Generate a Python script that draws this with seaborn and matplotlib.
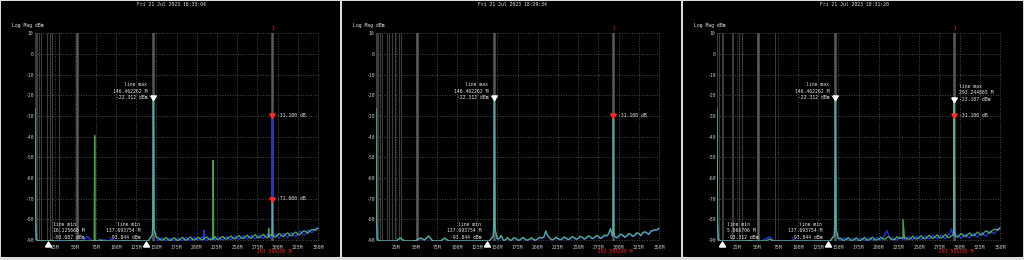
import numpy as np
import pandas as pd
import matplotlib
matplotlib.use("Agg")
import matplotlib.pyplot as plt
import matplotlib.transforms as mtransforms
import seaborn as sns

# ---------------- data ----------------
titles = ["Fri 21 Jul 2023 18:33:04", "Fri 21 Jul 2023 18:29:34", "Fri 21 Jul 2023 18:31:20"]
y_label = "Log Mag dBm"
y_ticks = [10, 0, -10, -20, -30, -40, -50, -60, -70, -80, -90]
x_ticks = [0, 25, 50, 75, 100, 125, 150, 175, 200, 225, 250, 275, 300, 325, 350]
x_tick_labels = ["", "25M", "50M", "75M", "100M", "125M", "150M", "175M", "200M",
                 "225M", "250M", "275M", "300M", "325M", "350M"]

freq_grid = [5, 10, 15, 20, 25, 30, 35, 40, 45, 50, 55, 60, 65, 70, 75, 80, 85, 90, 95, 100,
             105, 110, 115, 120, 125, 130, 135, 140, 145, 150, 155, 160, 165, 170, 175, 180,
             185, 190, 195, 200, 205, 210, 215, 220, 225, 230, 235, 240, 245, 250, 255, 260,
             265, 270, 275, 280, 285, 290, 295, 300, 305, 310, 315, 320, 325, 330, 335, 340,
             345, 350]
freq_mid = [152.5, 157.5, 162.5, 167.5, 172.5, 177.5, 182.5, 187.5, 192.5, 197.5,
            202.5, 207.5, 212.5, 217.5, 222.5, 227.5, 232.5, 237.5, 242.5, 247.5,
            252.5, 257.5, 262.5, 267.5, 272.5, 277.5, 282.5, 287.5, 292.5, 297.5,
            302.5, 307.5, 312.5, 317.5, 322.5, 327.5, 332.5, 337.5, 342.5, 347.5]

p1_blue = [-90.5, -90.5, -90.5, -90.5, -90.5, -90.3, -90.5, -90.5, -90.5, -90.4,
           -90.5, -89.9, -88.2, -90.4, -90.5, -90.5, -89.8, -90.5, -89.6, -90.5,
           -90.5, -90.3, -90.5, -90.5, -90.5, -90.4, -90.5, -90.5,
           -88.0, -89.0, -89.5, -90.0, -89.6, -90.2, -89.8, -90.0, -89.5, -89.9,
           -89.4, -89.7, -89.0, -89.9, -89.5, -89.8, -89.3, -89.7, -89.1, -89.5,
           -88.9, -89.4, -88.8, -89.2, -88.5, -89.0, -88.4, -88.9, -88.2, -88.6,
           -88.0, -88.3, -87.6, -88.1, -87.3, -87.9, -87.0, -86.6, -86.9, -85.8,
           -85.2, -84.6]
p1_blue_mid = [-90.2, -88.9, -90.3, -89.2, -90.4, -89.1, -90.3, -88.8, -90.2, -88.7,
               -90.1, -88.5, -90.2, -88.8, -90.0, -88.6, -89.9, -88.4, -89.8, -88.2,
               -89.7, -87.9, -89.5, -87.8, -89.4, -87.6, -89.3, -87.4, -89.2, -87.2,
               -89.0, -86.9, -88.8, -86.5, -88.4, -85.8, -87.8, -85.2, -86.5, -84.0]
p1_green = [-90.5, -90.5, -90.5, -90.2, -90.5, -90.5, -90.5, -90.5, -90.3, -90.5,
            -90.5, -90.5, -90.5, -90.5, -90.5, -90.0, -90.5, -90.5, -90.5, -90.5,
            -90.5, -90.4, -90.5, -90.5, -90.2, -90.5, -90.5, -90.5,
            -87.5, -88.6, -89.8, -89.4, -90.0, -89.5, -90.1, -89.4, -89.9, -89.2,
            -89.8, -89.3, -89.7, -89.1, -89.6, -89.0, -89.6, -88.8, -89.4, -88.7,
            -89.3, -88.5, -89.1, -88.4, -88.9, -88.1, -88.7, -87.9, -88.4, -87.6,
            -88.2, -87.5, -87.9, -87.2, -87.7, -86.8, -87.2, -86.3, -86.0, -85.5,
            -85.0, -84.2]
p1_green_mid = [-89.0, -90.2, -88.8, -90.3, -88.9, -90.2, -88.7, -90.1, -88.6, -90.0,
                -88.7, -89.9, -88.5, -89.9, -88.4, -89.8, -88.3, -89.6, -88.1, -89.5,
                -87.9, -89.4, -87.7, -89.2, -87.5, -89.0, -87.3, -88.9, -87.6, -88.7,
                -86.9, -88.4, -86.6, -88.0, -86.2, -87.6, -85.6, -86.8, -85.0, -85.3]
p2_blue = [-90.5, -90.5, -90.5, -90.5, -90.5, -89.3, -90.5, -90.5, -90.5, -90.4,
           -89.2, -90.2, -88.3, -90.5, -90.5, -90.5, -89.3, -90.5, -90.5, -90.5,
           -90.5, -90.5, -90.5, -90.5, -90.5, -90.5, -90.5, -90.5,
           -88.2, -89.7, -88.1, -90.2, -89.9, -89.3, -90.1, -89.5, -90.0, -89.8,
           -90.0, -89.6, -89.3, -85.9, -89.3, -89.8, -89.5, -89.7, -89.3, -89.6,
           -89.1, -89.4, -88.9, -89.3, -88.7, -89.1, -88.5, -88.9, -88.3, -84.8,
           -88.3, -88.5, -87.8, -88.3, -87.5, -88.0, -87.1, -86.7, -86.9, -85.9,
           -85.3, -84.6]
p2_blue_mid = [-89.5, -90.3, -89.2, -90.4, -89.3, -90.3, -89.1, -90.2, -89.2, -90.2,
               -89.0, -88.9, -88.3, -90.1, -88.9, -90.0, -88.8, -89.9, -88.6, -89.8,
               -88.5, -89.7, -88.3, -89.5, -88.1, -89.4, -87.9, -87.3, -88.5, -89.1,
               -87.5, -88.8, -87.2, -88.4, -86.8, -88.0, -86.3, -87.5, -85.7, -85.3]
p2_green = [-90.5, -90.5, -90.5, -90.5, -90.5, -89.0, -90.5, -90.5, -90.5, -90.2,
            -89.0, -90.0, -88.0, -90.4, -90.5, -90.5, -89.0, -90.5, -90.5, -90.5,
            -90.5, -90.5, -90.5, -90.5, -90.5, -90.5, -90.5, -90.5,
            -88.0, -89.5, -87.8, -90.0, -89.8, -89.0, -90.0, -89.2, -89.9, -89.6,
            -89.9, -89.4, -89.0, -85.6, -89.0, -89.6, -89.2, -89.5, -89.0, -89.4,
            -88.8, -89.2, -88.6, -89.0, -88.4, -88.9, -88.2, -88.7, -88.0, -84.5,
            -88.0, -88.2, -87.5, -88.0, -87.2, -87.7, -86.8, -86.4, -86.6, -85.6,
            -85.0, -84.3]
p2_green_mid = [-89.2, -90.1, -88.9, -90.2, -89.0, -90.1, -88.8, -90.0, -88.9, -90.0,
                -88.7, -88.6, -88.0, -89.9, -88.6, -89.8, -88.5, -89.7, -88.3, -89.6,
                -88.2, -89.5, -88.0, -89.3, -87.8, -89.2, -87.6, -87.0, -88.2, -88.9,
                -87.2, -88.6, -86.9, -88.2, -86.5, -87.8, -86.0, -87.2, -85.4, -85.0]
p3_blue = [-90.5, -90.5, -90.5, -90.5, -90.5, -90.5, -90.5, -90.5, -90.5, -90.5,
           -90.5, -89.5, -88.5, -90.3, -90.5, -90.5, -90.5, -90.5, -89.8, -90.5,
           -90.5, -90.5, -90.5, -90.5, -90.5, -90.5, -90.5, -90.5,
           -87.5, -89.0, -89.8, -89.4, -90.0, -89.6, -90.1, -89.5, -89.9, -89.3,
           -89.8, -89.5, -89.0, -85.5, -89.6, -89.8, -89.4, -89.7, -89.2, -89.6,
           -88.8, -89.3, -88.9, -89.2, -88.6, -88.9, -88.3, -88.8, -87.9, -84.6,
           -87.8, -88.6, -88.0, -88.6, -87.6, -88.2, -87.3, -87.6, -86.8, -86.2,
           -85.8, -85.0]
p3_blue_mid = [-90.2, -88.9, -90.3, -89.2, -90.4, -89.1, -90.3, -88.8, -90.2, -88.7,
               -90.1, -87.5, -87.8, -88.9, -90.0, -88.6, -89.9, -88.4, -89.8, -88.2,
               -89.7, -88.0, -89.5, -87.8, -89.4, -87.6, -89.3, -87.2, -88.5, -87.5,
               -89.0, -87.2, -88.9, -86.8, -88.6, -86.4, -88.1, -85.8, -87.0, -84.5]
p3_green = [-90.5, -90.5, -90.5, -90.5, -90.5, -90.5, -90.5, -90.3, -90.5, -90.5,
            -90.5, -90.5, -89.6, -90.5, -90.5, -90.5, -90.5, -90.5, -90.5, -90.5,
            -90.5, -90.5, -90.5, -90.5, -90.5, -90.5, -90.5, -90.5,
            -88.0, -89.4, -90.0, -89.6, -90.1, -89.7, -90.2, -89.6, -90.0, -89.5,
            -89.9, -89.6, -89.3, -88.8, -89.5, -89.7, -89.2, -89.0, -89.5, -89.1,
            -89.4, -88.8, -89.2, -88.6, -89.0, -88.4, -88.8, -88.2, -88.6, -87.9,
            -88.3, -87.6, -88.0, -87.3, -87.7, -87.0, -87.2, -86.5, -86.1, -85.5,
            -84.8, -84.1]
p3_green_mid = [-89.0, -90.2, -88.8, -90.3, -88.9, -90.2, -88.7, -90.1, -88.6, -90.0,
                -88.7, -89.9, -88.5, -89.9, -88.4, -89.0, -88.6, -89.6, -88.1, -89.5,
                -87.9, -89.4, -87.7, -89.2, -87.5, -89.0, -87.3, -88.9, -87.6, -88.7,
                -86.9, -88.4, -86.6, -88.0, -86.2, -87.6, -85.6, -86.8, -85.0, -85.3]

# narrow spikes (freq in MHz, level in dBm)
p1_blue_spike_f = [0, 0.6, 1.6, 145.6, 146.46, 147.3, 208.6, 209.2, 209.8, 293.1, 293.6, 294.1]
p1_blue_spike_v = [-26.4, -80, -89.8, -84, -22.3, -85, -89.5, -85.2, -89.5, -88, -31.1, -88]
p1_green_spike_f = [0, 0.6, 1.6, 73.3, 73.8, 74.3, 145.6, 146.46, 147.3, 219.9, 220.4, 220.9,
                    288.5, 289.0, 289.5, 293.1, 293.6, 294.1]
p1_green_spike_v = [-26.4, -80, -89.8, -90.4, -39.5, -90.4, -84, -22.3, -85, -89.5, -51.5, -89.5,
                    -88.5, -84.4, -88.5, -88, -71.6, -88]
p2_blue_spike_f = [0, 0.6, 1.6, 145.6, 146.46, 147.3, 293.1, 293.6, 294.1]
p2_blue_spike_v = [-26.4, -80, -89.8, -84, -22.3, -85, -86, -31.1, -86]
p2_green_spike_f = [0, 0.6, 1.6, 145.6, 146.46, 147.3, 293.1, 293.6, 294.1]
p2_green_spike_v = [-26.4, -80, -89.8, -84, -22.3, -85, -86, -31.1, -86]
p3_blue_spike_f = [0, 0.6, 1.6, 145.6, 146.46, 147.3, 292.7, 293.24, 293.9]
p3_blue_spike_v = [-26.4, -80, -89.8, -84, -22.5, -85, -86, -23.2, -86]
p3_green_spike_f = [0, 0.6, 1.6, 145.6, 146.46, 147.3, 228.2, 230.0, 231.8, 292.7, 293.24, 293.9]
p3_green_spike_v = [-26.4, -80, -89.8, -84, -22.3, -85, -89.2, -80.0, -89.2, -86, -23.2, -86]

# grey vertical marker lines (MHz)
p1_vlines = [0.3, 1.5, 3.0, 5.0, 7.5, 14.5, 18.0, 21.0, 29.5, 51.5, 146.46, 293.6]
p2_vlines = [0.3, 1.5, 3.0, 5.0, 7.5, 13.2, 16.5, 19.5, 23.6, 29.0, 30.6, 51.0, 146.46, 293.6]
p3_vlines = [0.4, 2.9, 5.8, 7.8, 19.0, 20.2, 27.6, 30.5, 51.0, 71.7, 146.46, 293.6]
strong_vlines = [51.0, 51.5, 146.46, 293.6]

# peak / min / marker annotations
p1_max = [(146.462262, -22.312)]
p2_max = [(146.462262, -22.312)]
p3_max = [(146.462262, -22.312), (293.244865, -23.187)]
p1_min = [(16.125666, -93.687), (137.693754, -93.844)]
p2_min = [(137.693754, -93.844)]
p3_min = [(5.966706, -93.312), (137.693754, -93.844)]
marker_freq = 293.595205
p1_marker_levels = [-31.1, -71.6]
p2_marker_levels = [-31.1]
p3_marker_levels = [-31.1]

panels = [
    dict(title=titles[0], blue=p1_blue, bmid=p1_blue_mid, green=p1_green, gmid=p1_green_mid,
         bsf=p1_blue_spike_f, bsv=p1_blue_spike_v, gsf=p1_green_spike_f, gsv=p1_green_spike_v,
         vlines=p1_vlines, maxes=p1_max, mins=p1_min, mlev=p1_marker_levels),
    dict(title=titles[1], blue=p2_blue, bmid=p2_blue_mid, green=p2_green, gmid=p2_green_mid,
         bsf=p2_blue_spike_f, bsv=p2_blue_spike_v, gsf=p2_green_spike_f, gsv=p2_green_spike_v,
         vlines=p2_vlines, maxes=p2_max, mins=p2_min, mlev=p2_marker_levels),
    dict(title=titles[2], blue=p3_blue, bmid=p3_blue_mid, green=p3_green, gmid=p3_green_mid,
         bsf=p3_blue_spike_f, bsv=p3_blue_spike_v, gsf=p3_green_spike_f, gsv=p3_green_spike_v,
         vlines=p3_vlines, maxes=p3_max, mins=p3_min, mlev=p3_marker_levels),
]

# ---------------- style ----------------
sns.set_theme(style="dark")
plt.rcParams['font.family'] = ['DejaVu Sans Mono', 'DejaVu Sans']
FS = 3.4
TXT = "#e6e6e6"
TICK = "#c8c8c8"
RED = "#ff2a2a"
BLUE = "#2230e0"
GREEN = "#72e072"

W, H = 1024, 260
fig = plt.figure(figsize=(W / 100, H / 100), dpi=100, facecolor="#dcdcdc")

panel_x = [1, 342, 683]
panel_w = [339, 339, 340]
plot_x = [34.5, 375.5, 716.5]
plot_w = 284
plot_top = 32.9
plot_bot = 241.2

tip_down = [(-1.1, 1.8), (1.1, 1.8), (0, 0), (-1.1, 1.8)]
tri_up = [(-1.1, -0.9), (1.1, -0.9), (0, 0.9), (-1.1, -0.9)]
MS_TIP = 6.5
MS_UP = 4.4


def px2fig(x, y):
    return x / W, 1 - y / H


def build(vals, mids, sf, sv):
    fr = list(freq_grid) + list(freq_mid) + list(sf)
    lv = list(vals) + list(mids) + list(sv)
    return pd.DataFrame({"freq": fr, "level": lv}).sort_values("freq")


for i, p in enumerate(panels):
    bg = fig.add_axes([panel_x[i] / W, 3 / H, panel_w[i] / W, 256 / H])
    bg.set_facecolor("black")
    bg.set_xticks([]); bg.set_yticks([])
    for s in bg.spines.values():
        s.set_visible(False)

    ax = fig.add_axes([plot_x[i] / W, (H - plot_bot) / H, plot_w / W, (plot_bot - plot_top) / H])
    ax.set_facecolor("black")
    for s in ax.spines.values():
        s.set_visible(False)
    ax.set_xlim(-0.6, 350.6)
    ax.set_ylim(-90.6, 10.2)
    ax.set_yticks(y_ticks)
    ax.set_yticklabels([str(v) for v in y_ticks])
    ax.set_xticks(x_ticks)
    ax.set_xticklabels(x_tick_labels)
    ax.tick_params(axis='both', length=0, labelsize=FS, colors=TICK)
    ax.tick_params(axis='y', pad=0.8)
    ax.tick_params(axis='x', pad=2.4)
    ax.grid(True, color="#4c4c4c", linestyle=(0, (1, 1.6)), linewidth=0.7)
    ax.set_axisbelow(True)

    for f in p["vlines"]:
        strong = f in strong_vlines
        ax.axvline(f, color="#5a5a5a" if strong else "#3c3c3c",
                   linewidth=1.8 if strong else 0.8, zorder=1)

    dfb = build(p["blue"], p["bmid"], p["bsf"], p["bsv"])
    dfg = build(p["green"], p["gmid"], p["gsf"], p["gsv"])
    sns.lineplot(data=dfb, x="freq", y="level", ax=ax, color=BLUE, linewidth=1.0,
                 estimator=None, sort=False, legend=False, zorder=3)
    sns.lineplot(data=dfg, x="freq", y="level", ax=ax, color=GREEN, linewidth=1.0, alpha=0.7,
                 estimator=None, sort=False, legend=False, zorder=4)
    ax.set_xlabel(""); ax.set_ylabel("")

    blend = mtransforms.blended_transform_factory(ax.transData, ax.transAxes)

    for j, (f, v) in enumerate(p["maxes"]):
        ax.plot([f], [v], marker=tip_down, markersize=MS_TIP, color="white", linestyle="none",
                zorder=6, clip_on=False)
        right_side = (j == 1)
        ax.annotate(f"line max\n{f:.6f} M\n{v:.3f} dBm", xy=(f, v),
                    xytext=(5 if right_side else -6, 0), textcoords="offset pixels",
                    ha="left" if right_side else "right", va="bottom",
                    fontsize=FS, color=TXT, linespacing=1.35)

    for j, (f, v) in enumerate(p["mins"]):
        ax.plot([f], [-0.012], marker=tri_up, markersize=MS_UP, color="white", linestyle="none",
                transform=blend, clip_on=False, zorder=6)
        left_side = (f > 100)
        ax.annotate(f"line min\n{f:.6f} M\n{v:.3f} dBm", xy=(f, 0), xycoords=blend,
                    xytext=(-6 if left_side else 5, 1.5), textcoords="offset pixels",
                    ha="right" if left_side else "left", va="bottom",
                    fontsize=FS, color=TXT, linespacing=1.35)

    for lev in p["mlev"]:
        ax.plot([marker_freq], [lev], marker=tip_down, markersize=MS_TIP, color=RED,
                linestyle="none", zorder=7, clip_on=False)
        ax.annotate(f"{lev:.3f} dB", xy=(marker_freq, lev), xytext=(5, 3),
                    textcoords="offset pixels", ha="left", va="center",
                    fontsize=FS, color=TXT)
    ax.annotate("1", xy=(marker_freq, 1.0235), xycoords=blend, ha="center", va="center",
                fontsize=FS, color=RED)
    ax.annotate(f"{marker_freq:.6f} M", xy=(marker_freq, -0.05), xycoords=blend,
                xytext=(2, 0), textcoords="offset pixels",
                ha="center", va="center", fontsize=FS, color=RED)

    cx = panel_x[i] + panel_w[i] / 2 + 1
    fx, fy = px2fig(cx, 5)
    fig.text(fx, fy, p["title"], ha="center", va="center", fontsize=FS, color=TXT)
    fx, fy = px2fig(panel_x[i] + 11, 25)
    fig.text(fx, fy, y_label, ha="left", va="center", fontsize=FS, color=TXT)

fig.savefig("out.png", dpi=100, facecolor=fig.get_facecolor())
